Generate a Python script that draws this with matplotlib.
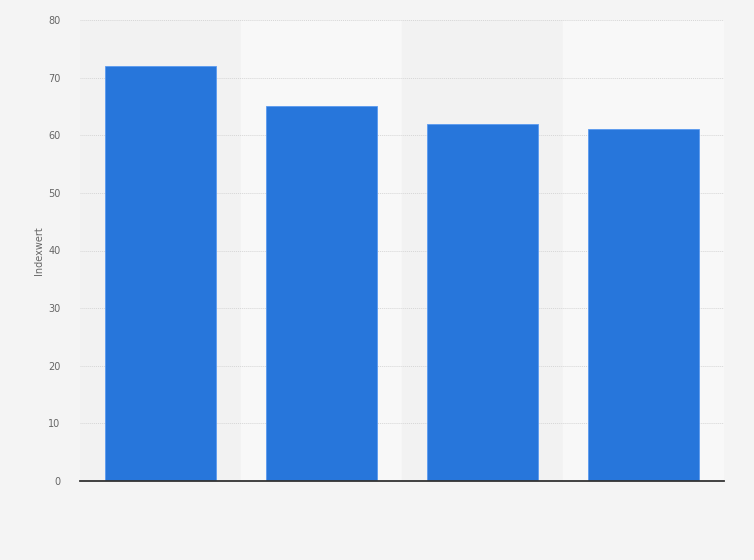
import matplotlib
matplotlib.use("Agg")
import matplotlib.pyplot as plt

# chart values (no category names shown in the reference)
categories = ["", "", "", ""]
values = [72, 65, 62, 61]
y_ticks = [0, 10, 20, 30, 40, 50, 60, 70, 80]

fig = plt.figure(figsize=(7.54, 5.6), dpi=100, facecolor="#f4f4f4")
ax = fig.add_axes([80 / 754, 79 / 560, 644 / 754, 461 / 560])
ax.set_facecolor("#f4f4f4")

x = list(range(len(values)))

# alternating column bands
for i in x:
    ax.axvspan(i - 0.5, i + 0.5, color="#f2f2f2" if i % 2 == 0 else "#f8f8f8", zorder=0)

ax.bar(x, values, width=0.69, color="#2776db", edgecolor="#5a9af0", linewidth=0.6, zorder=3)

ax.set_xlim(-0.5, len(values) - 0.5)
ax.set_ylim(0, 80)
ax.set_yticks(y_ticks)
ax.set_xticks(x)
ax.set_xticklabels(categories)
ax.tick_params(axis="x", length=0)
ax.tick_params(axis="y", length=0, labelsize=7, labelcolor="#666666", pad=14)
ax.grid(axis="y", color="#d6d6d6", linestyle=(0, (1, 1)), linewidth=0.7, zorder=1)

for side in ["top", "right", "left"]:
    ax.spines[side].set_visible(False)
ax.spines["bottom"].set_color("#333333")
ax.spines["bottom"].set_linewidth(1.3)
ax.spines["bottom"].set_zorder(4)

ax.set_ylabel("Indexwert", fontsize=7, color="#666666", labelpad=3)

fig.savefig("out.png", dpi=100, facecolor=fig.get_facecolor())
